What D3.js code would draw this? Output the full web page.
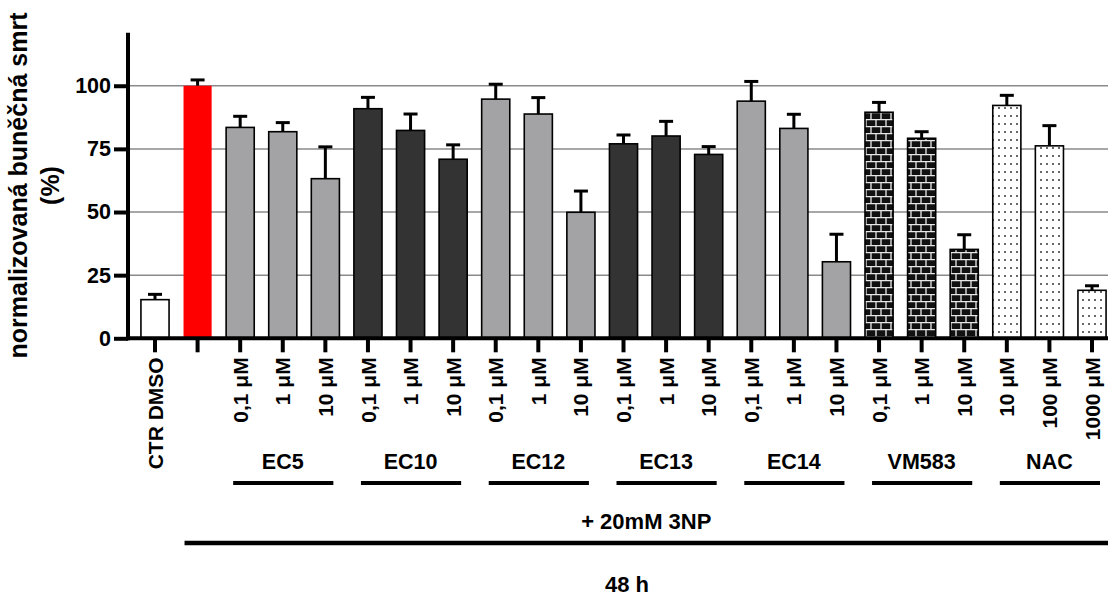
<!DOCTYPE html>
<html>
<head>
<meta charset="utf-8">
<script src="https://cdn.jsdelivr.net/npm/d3@7"></script>
<style>
  html, body { margin: 0; padding: 0; background: #fff; }
  svg { display: block; font-family: "Liberation Sans", Arial, sans-serif; font-weight: bold; }
</style>
</head>
<body>
<svg id="chart" width="1119" height="599"></svg>
<script>
// ---------- data ----------
const barLabels = ["CTR DMSO", "",
  "0,1 μM", "1 μM", "10 μM",
  "0,1 μM", "1 μM", "10 μM",
  "0,1 μM", "1 μM", "10 μM",
  "0,1 μM", "1 μM", "10 μM",
  "0,1 μM", "1 μM", "10 μM",
  "0,1 μM", "1 μM", "10 μM",
  "10 μM", "100 μM", "1000 μM"];
const barGroups = ["CTR", "3NP",
  "EC5", "EC5", "EC5",
  "EC10", "EC10", "EC10",
  "EC12", "EC12", "EC12",
  "EC13", "EC13", "EC13",
  "EC14", "EC14", "EC14",
  "VM583", "VM583", "VM583",
  "NAC", "NAC", "NAC"];
const meanValues = [15.3, 100,
  83.5, 81.8, 63.2,
  90.9, 82.3, 70.9,
  94.7, 88.8, 49.9,
  77.0, 80.1, 72.8,
  93.9, 83.1, 30.3,
  89.5, 79.2, 35.2,
  92.2, 76.2, 19.0];
const errValues = [2.1, 2.3,
  4.4, 3.6, 12.6,
  4.5, 6.5, 5.7,
  5.9, 6.5, 8.4,
  3.5, 5.8, 3.1,
  7.8, 5.6, 10.9,
  3.9, 2.6, 5.8,
  4.0, 8.0, 1.8];
const groupNames = ["EC5", "EC10", "EC12", "EC13", "EC14", "VM583", "NAC"];
const yTicks = [0, 25, 50, 75, 100];
const yTitle = ["normalizovaná buněčná smrt", "(%)"];
const treatmentLabel = "+ 20mM 3NP";
const timeLabel = "48 h";

// ---------- setup ----------
const svg = d3.select("#chart");
const defs = svg.append("defs");

// brick pattern
const brick = defs.append("pattern").attr("id", "brick")
  .attr("patternUnits", "userSpaceOnUse").attr("width", 10).attr("height", 14);
brick.append("rect").attr("width", 10).attr("height", 14).attr("fill", "#111");
brick.append("path")
  .attr("d", "M0,0.6H10M0,7.6H10M1,0.6V7.6M6,7.6V14.6")
  .attr("stroke", "#e8e8e8").attr("stroke-width", 1.3).attr("fill", "none");

// dot pattern
const dots = defs.append("pattern").attr("id", "dots")
  .attr("patternUnits", "userSpaceOnUse").attr("width", 6).attr("height", 8);
dots.append("rect").attr("width", 6).attr("height", 8).attr("fill", "#fff");
dots.append("circle").attr("cx", 3).attr("cy", 4).attr("r", 0.9).attr("fill", "#222");

const styleFor = g => {
  if (g === "CTR") return { fill: "#ffffff", stroke: "#000" };
  if (g === "3NP") return { fill: "#ff0000", stroke: "none" };
  if (g === "EC5" || g === "EC12" || g === "EC14") return { fill: "#a3a3a6", stroke: "#000" };
  if (g === "EC10" || g === "EC13") return { fill: "#333333", stroke: "#000" };
  if (g === "VM583") return { fill: "url(#brick)", stroke: "#000" };
  return { fill: "url(#dots)", stroke: "#000" };
};

const idx = d3.range(meanValues.length);
const x = d3.scaleBand().domain(idx).range([133.7, 1113.3])
  .paddingInner(0.34).paddingOuter(0.17);
const y = d3.scaleLinear().domain([0, 121]).range([338.3, 32.7]);

const axisX = 128, plotRight = 1108;
const FONT = "'Liberation Sans', Arial, sans-serif";

// grid
svg.append("g").selectAll("line").data(yTicks.filter(t => t > 0)).join("line")
  .attr("x1", axisX).attr("x2", plotRight)
  .attr("y1", d => y(d)).attr("y2", d => y(d))
  .attr("stroke", "#8a8a8a").attr("stroke-width", 1.5);

// bars
svg.append("g").selectAll("rect").data(idx).join("rect")
  .attr("x", i => x(i)).attr("width", x.bandwidth())
  .attr("y", i => y(meanValues[i])).attr("height", i => y(0) - y(meanValues[i]))
  .attr("fill", i => styleFor(barGroups[i]).fill)
  .attr("stroke", i => styleFor(barGroups[i]).stroke)
  .attr("stroke-width", 1.6);

// error bars (upper only)
const eb = svg.append("g").attr("stroke", "#000").attr("stroke-width", 3);
eb.selectAll("line.v").data(idx).join("line").attr("class", "v")
  .attr("x1", i => x(i) + x.bandwidth() / 2).attr("x2", i => x(i) + x.bandwidth() / 2)
  .attr("y1", i => y(meanValues[i])).attr("y2", i => y(meanValues[i] + errValues[i]));
eb.selectAll("line.c").data(idx).join("line").attr("class", "c")
  .attr("x1", i => x(i) + x.bandwidth() / 2 - 7).attr("x2", i => x(i) + x.bandwidth() / 2 + 7)
  .attr("y1", i => y(meanValues[i] + errValues[i])).attr("y2", i => y(meanValues[i] + errValues[i]));

// y axis
const yAxis = svg.append("g").attr("transform", `translate(${axisX},0)`)
  .call(d3.axisLeft(y).tickValues(yTicks).tickSize(14).tickSizeOuter(0).tickPadding(3));
yAxis.select(".domain").remove();
yAxis.selectAll(".tick line").attr("stroke", "#000").attr("stroke-width", 4);
yAxis.selectAll(".tick text").attr("font-size", 21.5).attr("font-weight", "bold")
  .attr("font-family", FONT).attr("fill", "#000");
svg.append("line").attr("x1", axisX).attr("x2", axisX)
  .attr("y1", y(121)).attr("y2", y(0) + 2)
  .attr("stroke", "#000").attr("stroke-width", 4);

// x axis
const xAxis = svg.append("g").attr("transform", `translate(0,${y(0)})`)
  .call(d3.axisBottom(x).tickSize(14).tickSizeOuter(0).tickFormat(i => barLabels[i]));
xAxis.select(".domain").remove();
xAxis.selectAll(".tick line").attr("stroke", "#000").attr("stroke-width", 4);
xAxis.selectAll(".tick text")
  .attr("transform", "rotate(-90)")
  .attr("x", -19).attr("y", 0).attr("dy", "0.36em")
  .attr("text-anchor", "end")
  .attr("font-size", 21).attr("font-weight", "bold")
  .attr("font-family", FONT).attr("fill", "#000");
svg.append("line").attr("x1", axisX - 2).attr("x2", plotRight)
  .attr("y1", y(0)).attr("y2", y(0))
  .attr("stroke", "#000").attr("stroke-width", 4);

// y title
const yt = svg.append("text").attr("transform", `translate(0,${(y(0) + y(121)) / 2}) rotate(-90)`)
  .attr("text-anchor", "middle").attr("font-size", 25).attr("fill", "#000");
yt.append("tspan").attr("x", 0).attr("y", 27).text(yTitle[0]);
yt.append("tspan").attr("x", 0).attr("y", 59).text(yTitle[1]);

// group labels and lines
const gLayer = svg.append("g");
groupNames.forEach(g => {
  const members = idx.filter(i => barGroups[i] === g);
  const c0 = x(members[0]) + x.bandwidth() / 2;
  const c2 = x(members[members.length - 1]) + x.bandwidth() / 2;
  gLayer.append("text").attr("x", (c0 + c2) / 2).attr("y", 469)
    .attr("text-anchor", "middle").attr("font-size", 21.5).attr("fill", "#000").text(g);
  gLayer.append("line").attr("x1", c0 - 7).attr("x2", c2 + 8)
    .attr("y1", 483).attr("y2", 483).attr("stroke", "#000").attr("stroke-width", 4);
});

// treatment line and labels
const first = idx.find(i => barGroups[i] === "3NP");
const lx0 = x(first) + 1;
svg.append("text").attr("x", (lx0 + plotRight) / 2).attr("y", 529)
  .attr("text-anchor", "middle").attr("font-size", 22).attr("fill", "#000").text(treatmentLabel);
svg.append("line").attr("x1", lx0).attr("x2", plotRight).attr("y1", 543).attr("y2", 543)
  .attr("stroke", "#000").attr("stroke-width", 4.5);
svg.append("text").attr("x", 627).attr("y", 592)
  .attr("text-anchor", "middle").attr("font-size", 22).attr("fill", "#000").text(timeLabel);
</script>
</body>
</html>
